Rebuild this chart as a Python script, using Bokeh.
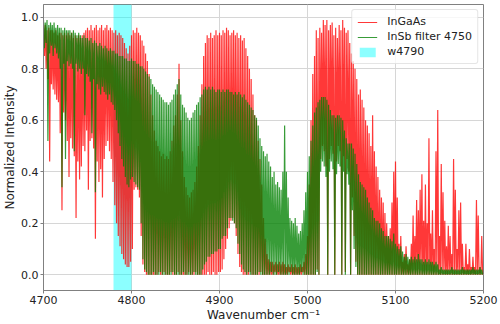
from bokeh.plotting import figure
from bokeh.models import Range1d, Legend, LegendItem, FixedTicker, PrintfTickFormatter
from bokeh.embed import file_html
from bokeh.resources import INLINE

# ---------------- data ----------------
# Each spectrum is given as an upper (hi) and lower (lo) envelope per 2 cm^-1 bin,
# hi read at 4700 + 2k, lo read at 4701 + 2k  (k = 0 .. 249)
wn_start = 4700
bin_step = 2

ingaas_hi = [
    0.96, 0.97, 0.95, 0.96, 0.95,  # 4700
    0.95, 0.94, 0.95, 0.93, 0.94,  # 4710
    0.94, 0.93, 0.94, 0.93, 0.94,  # 4720
    0.93, 0.94, 0.92, 0.93, 0.92,  # 4730
    0.93, 0.92, 0.93, 0.94, 0.95,  # 4740
    0.96, 0.95, 0.97, 0.95, 0.96,  # 4750
    0.97, 0.95, 0.96, 0.97, 0.95,  # 4760
    0.96, 0.97, 0.95, 0.96, 0.95,  # 4770
    0.94, 0.95, 0.93, 0.94, 0.93,  # 4780
    0.92, 0.90, 0.88, 0.86, 0.89,  # 4790
    0.93, 0.95, 0.94, 0.96, 0.94,  # 4800
    0.93, 0.91, 0.89, 0.86, 0.83,  # 4810
    0.78, 0.70, 0.62, 0.56, 0.52,  # 4820
    0.50, 0.48, 0.46, 0.47, 0.45,  # 4830
    0.46, 0.45, 0.48, 0.52, 0.58,  # 4840
    0.62, 0.70, 0.82, 0.60, 0.48,  # 4850
    0.38, 0.34, 0.31, 0.30, 0.32,  # 4860
    0.33, 0.36, 0.42, 0.50, 0.62,  # 4870
    0.74, 0.85, 0.90, 0.93, 0.92,  # 4880
    0.94, 0.92, 0.93, 0.95, 0.93,  # 4890
    0.94, 0.93, 0.95, 0.94, 0.96,  # 4900
    0.95, 0.93, 0.94, 0.95, 0.93,  # 4910
    0.94, 0.92, 0.93, 0.91, 0.92,  # 4920
    0.88, 0.85, 0.80, 0.76, 0.70,  # 4930
    0.62, 0.60, 0.52, 0.45, 0.35,  # 4940
    0.22, 0.14, 0.08, 0.06, 0.05,  # 4950
    0.05, 0.04, 0.05, 0.04, 0.05,  # 4960
    0.04, 0.05, 0.04, 0.03, 0.04,  # 4970
    0.03, 0.04, 0.03, 0.04, 0.03,  # 4980
    0.03, 0.04, 0.03, 0.05, 0.08,  # 4990
    0.15, 0.35, 0.60, 0.78, 0.85,  # 5000
    0.95, 0.92, 0.96, 0.94, 0.99,  # 5010
    0.97, 0.99, 0.95, 0.97, 0.98,  # 5020
    0.93, 0.96, 0.92, 0.97, 0.95,  # 5030
    0.99, 0.96, 0.94, 0.95, 0.90,  # 5040
    0.86, 0.83, 0.80, 0.76, 0.70,  # 5050
    0.72, 0.68, 0.65, 0.60, 0.58,  # 5060
    0.55, 0.50, 0.62, 0.48, 0.42,  # 5070
    0.38, 0.33, 0.30, 0.28, 0.24,  # 5080
    0.20, 0.15, 0.18, 0.28, 0.40,  # 5090
    0.44, 0.30, 0.12, 0.15, 0.05,  # 5100
    0.08, 0.11, 0.04, 0.06, 0.12,  # 5110
    0.23, 0.15, 0.29, 0.25, 0.33,  # 5120
    0.39, 0.21, 0.35, 0.20, 0.53,  # 5130
    0.16, 0.25, 0.10, 0.48, 0.64,  # 5140
    0.15, 0.43, 0.32, 0.21, 0.11,  # 5150
    0.19, 0.15, 0.08, 0.45, 0.33,  # 5160
    0.10, 0.25, 0.28, 0.12, 0.03,  # 5170
    0.12, 0.04, 0.10, 0.03, 0.07,  # 5180
    0.03, 0.29, 0.23, 0.03, 0.15,  # 5190
]

ingaas_lo = [
    0.85, 0.80, 0.76, 0.44, 0.74,  # 4701
    0.72, 0.70, 0.68, 0.67, 0.55,  # 4711
    0.25, 0.63, 0.60, 0.52, 0.38,  # 4721
    0.53, 0.49, 0.46, 0.22, 0.44,  # 4731
    0.37, 0.42, 0.50, 0.48, 0.56,  # 4741
    0.33, 0.52, 0.53, 0.49, 0.14,  # 4751
    0.44, 0.36, 0.41, 0.30, 0.45,  # 4761
    0.50, 0.52, 0.48, 0.45, 0.36,  # 4771
    0.27, 0.20, 0.15, 0.11, 0.08,  # 4781
    0.06, 0.04, 0.03, 0.03, 0.05,  # 4791
    0.10, 0.33, 0.34, 0.33, 0.30,  # 4801
    0.15, 0.04, 0.01, 0.00, 0.00,  # 4811
    0.00, 0.00, 0.00, 0.00, 0.00,  # 4821
    0.01, 0.00, 0.00, 0.01, 0.00,  # 4831
    0.00, 0.00, 0.01, 0.00, 0.00,  # 4841
    0.00, 0.01, 0.00, 0.00, 0.00,  # 4851
    0.00, 0.00, 0.01, 0.00, 0.00,  # 4861
    0.00, 0.01, 0.00, 0.00, 0.00,  # 4871
    0.00, 0.00, 0.00, 0.01, 0.00,  # 4881
    0.00, 0.01, 0.00, 0.00, 0.01,  # 4891
    0.01, 0.02, 0.06, 0.10, 0.14,  # 4901
    0.18, 0.21, 0.22, 0.20, 0.15,  # 4911
    0.08, 0.03, 0.01, 0.00, 0.00,  # 4921
    0.00, 0.00, 0.01, 0.00, 0.00,  # 4931
    0.00, 0.00, 0.00, 0.01, 0.00,  # 4941
    0.00, 0.00, 0.00, 0.00, 0.00,  # 4951
    0.00, 0.01, 0.00, 0.00, 0.00,  # 4961
    0.00, 0.00, 0.00, 0.00, 0.01,  # 4971
    0.00, 0.00, 0.00, 0.00, 0.00,  # 4981
    0.00, 0.00, 0.01, 0.00, 0.00,  # 4991
    0.00, 0.00, 0.00, 0.00, 0.00,  # 5001
    0.02, 0.00, 0.45, 0.50, 0.48,  # 5011
    0.42, 0.00, 0.45, 0.50, 0.47,  # 5021
    0.00, 0.44, 0.50, 0.48, 0.00,  # 5031
    0.46, 0.01, 0.45, 0.40, 0.00,  # 5041
    0.30, 0.15, 0.05, 0.00, 0.00,  # 5051
    0.00, 0.00, 0.00, 0.00, 0.00,  # 5061
    0.00, 0.00, 0.00, 0.00, 0.00,  # 5071
    0.00, 0.00, 0.00, 0.00, 0.00,  # 5081
    0.00, 0.00, 0.00, 0.00, 0.00,  # 5091
    0.00, 0.00, 0.00, 0.00, 0.00,  # 5101
    0.00, 0.00, 0.00, 0.00, 0.00,  # 5111
    0.00, 0.00, 0.00, 0.00, 0.00,  # 5121
    0.00, 0.00, 0.00, 0.00, 0.00,  # 5131
    0.00, 0.00, 0.00, 0.00, 0.00,  # 5141
    0.00, 0.00, 0.00, 0.00, 0.00,  # 5151
    0.00, 0.00, 0.00, 0.00, 0.00,  # 5161
    0.00, 0.00, 0.00, 0.00, 0.00,  # 5171
    0.00, 0.00, 0.00, 0.00, 0.00,  # 5181
    0.00, 0.00, 0.00, 0.00, 0.00,  # 5191
]

insb_hi = [
    0.99, 0.98, 0.99, 0.97, 0.98,  # 4700
    0.97, 0.98, 0.96, 0.97, 0.96,  # 4710
    0.96, 0.95, 0.96, 0.95, 0.95,  # 4720
    0.95, 0.94, 0.95, 0.94, 0.93,  # 4730
    0.94, 0.93, 0.92, 0.93, 0.92,  # 4740
    0.92, 0.91, 0.92, 0.90, 0.91,  # 4750
    0.90, 0.89, 0.90, 0.89, 0.88,  # 4760
    0.89, 0.88, 0.87, 0.88, 0.87,  # 4770
    0.87, 0.86, 0.86, 0.85, 0.85,  # 4780
    0.85, 0.84, 0.84, 0.83, 0.83,  # 4790
    0.84, 0.83, 0.83, 0.82, 0.82,  # 4800
    0.81, 0.81, 0.80, 0.79, 0.78,  # 4810
    0.77, 0.76, 0.74, 0.73, 0.72,  # 4820
    0.71, 0.70, 0.69, 0.68, 0.67,  # 4830
    0.67, 0.66, 0.67, 0.68, 0.70,  # 4840
    0.72, 0.74, 0.76, 0.70, 0.66,  # 4850
    0.65, 0.63, 0.61, 0.60, 0.61,  # 4860
    0.63, 0.64, 0.66, 0.67, 0.69,  # 4870
    0.70, 0.72, 0.73, 0.72, 0.73,  # 4880
    0.72, 0.73, 0.72, 0.71, 0.72,  # 4890
    0.72, 0.71, 0.72, 0.71, 0.72,  # 4900
    0.72, 0.71, 0.71, 0.70, 0.71,  # 4910
    0.70, 0.71, 0.70, 0.69, 0.70,  # 4920
    0.68, 0.67, 0.66, 0.65, 0.64,  # 4930
    0.62, 0.61, 0.58, 0.53, 0.50,  # 4940
    0.48, 0.46, 0.47, 0.44, 0.42,  # 4950
    0.38, 0.40, 0.35, 0.36, 0.34,  # 4960
    0.33, 0.40, 0.58, 0.40, 0.30,  # 4970
    0.22, 0.21, 0.20, 0.22, 0.19,  # 4980
    0.16, 0.17, 0.20, 0.25, 0.32,  # 4990
    0.40, 0.46, 0.52, 0.58, 0.63,  # 5000
    0.65, 0.67, 0.68, 0.69, 0.69,  # 5010
    0.69, 0.68, 0.66, 0.64, 0.62,  # 5020
    0.62, 0.61, 0.62, 0.62, 0.61,  # 5030
    0.60, 0.56, 0.53, 0.51, 0.51,  # 5040
    0.51, 0.49, 0.47, 0.43, 0.39,  # 5050
    0.36, 0.35, 0.34, 0.33, 0.30,  # 5060
    0.28, 0.26, 0.25, 0.22, 0.21,  # 5070
    0.21, 0.20, 0.18, 0.17, 0.15,  # 5080
    0.15, 0.15, 0.14, 0.13, 0.16,  # 5090
    0.12, 0.11, 0.10, 0.11, 0.09,  # 5100
    0.07, 0.08, 0.07, 0.06, 0.07,  # 5110
    0.06, 0.07, 0.06, 0.08, 0.06,  # 5120
    0.06, 0.05, 0.06, 0.05, 0.06,  # 5130
    0.05, 0.05, 0.04, 0.05, 0.04,  # 5140
    0.02, 0.03, 0.02, 0.02, 0.02,  # 5150
    0.02, 0.02, 0.03, 0.02, 0.02,  # 5160
    0.02, 0.02, 0.02, 0.03, 0.02,  # 5170
    0.02, 0.02, 0.02, 0.02, 0.03,  # 5180
    0.02, 0.02, 0.02, 0.03, 0.02,  # 5190
]

insb_lo = [
    0.88, 0.90, 0.52, 0.86, 0.89,  # 4701
    0.85, 0.88, 0.86, 0.84, 0.80,  # 4711
    0.34, 0.82, 0.45, 0.83, 0.81,  # 4721
    0.82, 0.80, 0.48, 0.82, 0.79,  # 4731
    0.80, 0.78, 0.80, 0.62, 0.78,  # 4741
    0.77, 0.75, 0.55, 0.76, 0.32,  # 4751
    0.74, 0.72, 0.70, 0.73, 0.71,  # 4761
    0.70, 0.68, 0.70, 0.67, 0.66,  # 4771
    0.64, 0.60, 0.55, 0.50, 0.45,  # 4781
    0.42, 0.38, 0.35, 0.34, 0.37,  # 4791
    0.38, 0.36, 0.35, 0.34, 0.33,  # 4801
    0.20, 0.06, 0.02, 0.01, 0.00,  # 4811
    0.00, 0.00, 0.01, 0.00, 0.00,  # 4821
    0.00, 0.01, 0.00, 0.00, 0.00,  # 4831
    0.00, 0.00, 0.00, 0.01, 0.00,  # 4841
    0.00, 0.00, 0.00, 0.00, 0.01,  # 4851
    0.00, 0.00, 0.00, 0.00, 0.00,  # 4861
    0.01, 0.00, 0.00, 0.00, 0.00,  # 4871
    0.02, 0.04, 0.05, 0.07, 0.07,  # 4881
    0.08, 0.08, 0.09, 0.09, 0.10,  # 4891
    0.10, 0.14, 0.15, 0.15, 0.18,  # 4901
    0.22, 0.22, 0.21, 0.20, 0.18,  # 4911
    0.12, 0.08, 0.04, 0.02, 0.01,  # 4921
    0.00, 0.01, 0.00, 0.00, 0.00,  # 4931
    0.00, 0.00, 0.01, 0.00, 0.00,  # 4941
    0.00, 0.00, 0.00, 0.00, 0.01,  # 4951
    0.00, 0.00, 0.00, 0.01, 0.00,  # 4961
    0.00, 0.00, 0.00, 0.00, 0.00,  # 4971
    0.01, 0.00, 0.00, 0.00, 0.00,  # 4981
    0.00, 0.01, 0.00, 0.00, 0.00,  # 4991
    0.00, 0.00, 0.00, 0.00, 0.00,  # 5001
    0.01, 0.00, 0.40, 0.44, 0.42,  # 5011
    0.38, 0.00, 0.40, 0.44, 0.41,  # 5021
    0.00, 0.39, 0.43, 0.42, 0.00,  # 5031
    0.40, 0.00, 0.39, 0.35, 0.00,  # 5041
    0.25, 0.10, 0.03, 0.00, 0.00,  # 5051
    0.00, 0.00, 0.00, 0.00, 0.00,  # 5061
    0.00, 0.00, 0.00, 0.00, 0.00,  # 5071
    0.00, 0.00, 0.00, 0.00, 0.00,  # 5081
    0.00, 0.00, 0.00, 0.00, 0.00,  # 5091
    0.00, 0.00, 0.00, 0.00, 0.00,  # 5101
    0.00, 0.00, 0.00, 0.00, 0.00,  # 5111
    0.00, 0.00, 0.00, 0.00, 0.00,  # 5121
    0.00, 0.00, 0.00, 0.00, 0.00,  # 5131
    0.00, 0.00, 0.00, 0.00, 0.00,  # 5141
    0.00, 0.00, 0.00, 0.00, 0.00,  # 5151
    0.00, 0.00, 0.00, 0.00, 0.00,  # 5161
    0.00, 0.00, 0.00, 0.00, 0.00,  # 5171
    0.00, 0.00, 0.00, 0.00, 0.00,  # 5181
    0.00, 0.00, 0.00, 0.00, 0.00,  # 5191
]

band_left = 4780
band_right = 4800

series_names = ["InGaAs", "InSb filter 4750", "w4790"]
x_ticks = [4700, 4800, 4900, 5000, 5100, 5200]
y_ticks = [0.0, 0.2, 0.4, 0.6, 0.8, 1.0]


def trace(hi, lo):
    xs, ys = [], []
    for k, (h, l) in enumerate(zip(hi, lo)):
        xs.append(wn_start + bin_step * k)
        ys.append(h)
        xs.append(wn_start + bin_step * k + 1)
        ys.append(l)
    return xs, ys


FONT = "DejaVu Sans"

p = figure(width=500, height=324,
           x_range=Range1d(4700, 5200), y_range=Range1d(-0.0615, 1.05),
           output_backend="svg", toolbar_location=None,
           min_border_left=39, min_border_right=17,
           min_border_top=4, min_border_bottom=31,
           background_fill_color="white", border_fill_color="white")

band = p.vstrip(x0=[band_left], x1=[band_right], fill_color="#00ffff",
                fill_alpha=0.45, line_color=None)

rx, ry = trace(ingaas_hi, ingaas_lo)
gx, gy = trace(insb_hi, insb_lo)
r_red = p.line(rx, ry, line_color="#ff0000", line_alpha=0.78, line_width=1.2)
r_green = p.line(gx, gy, line_color="#008000", line_alpha=0.78, line_width=1.2)

legend = Legend(items=[
    LegendItem(label=series_names[0], renderers=[r_red]),
    LegendItem(label=series_names[1], renderers=[r_green]),
    LegendItem(label=series_names[2], renderers=[band]),
], location="top_right")
legend.label_text_font = FONT
legend.label_text_font_size = "11px"
legend.label_text_color = "#222222"
legend.border_line_color = "#cccccc"
legend.border_line_width = 1
legend.background_fill_alpha = 0.8
legend.margin = 5
legend.padding = 5
legend.spacing = 2
legend.glyph_width = 20
legend.glyph_height = 12
legend.label_height = 12
legend.label_standoff = 10
legend.border_radius = 3
p.add_layout(legend)

for ax in (p.xaxis[0], p.yaxis[0]):
    ax.axis_label_text_font = FONT
    ax.axis_label_text_font_size = "12px"
    ax.axis_label_text_font_style = "normal"
    ax.axis_label_text_color = "#222222"
    ax.major_label_text_font = FONT
    ax.major_label_text_font_size = "11px"
    ax.major_label_text_color = "#222222"
    ax.axis_line_color = "#808080"
    ax.major_tick_line_color = "#808080"
    ax.major_tick_out = 3
    ax.major_tick_in = 0
    ax.minor_tick_line_color = None
    ax.major_label_standoff = 2
    ax.axis_label_standoff = 1

p.xaxis.axis_label = "Wavenumber cm\u207b\u00b9"
p.yaxis.axis_label = "Normalized Intensity"
p.xaxis.ticker = FixedTicker(ticks=x_ticks)
p.yaxis.ticker = FixedTicker(ticks=y_ticks)
p.yaxis.formatter = PrintfTickFormatter(format="%.1f")

p.grid.grid_line_color = "#d6d6d6"
p.grid.grid_line_width = 1
p.outline_line_color = "#808080"
p.outline_line_width = 1

open("out.html", "w").write(file_html(p, INLINE))
